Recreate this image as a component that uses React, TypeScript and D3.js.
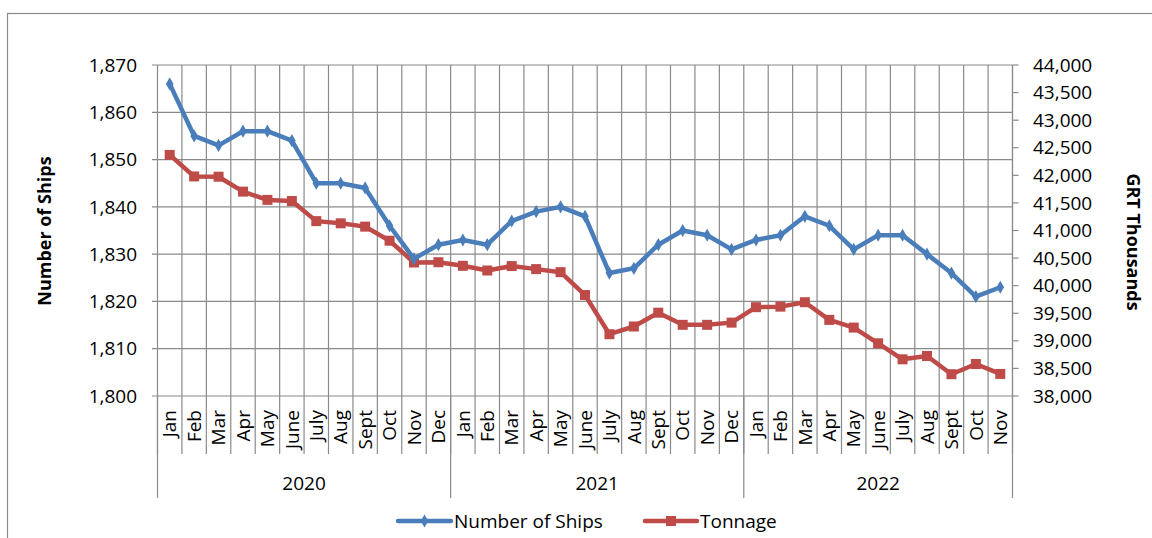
import React from 'react'
import * as d3 from 'd3'

const months: string[] = [
    'Jan', 'Feb', 'Mar', 'Apr', 'May', 'June', 'July', 'Aug', 'Sept', 'Oct', 'Nov', 'Dec',
    'Jan', 'Feb', 'Mar', 'Apr', 'May', 'June', 'July', 'Aug', 'Sept', 'Oct', 'Nov', 'Dec',
    'Jan', 'Feb', 'Mar', 'Apr', 'May', 'June', 'July', 'Aug', 'Sept', 'Oct', 'Nov',
]

const years = [
    { label: '2020', start: 0, count: 12 },
    { label: '2021', start: 12, count: 12 },
    { label: '2022', start: 24, count: 11 },
]

// Number of ships (left axis)
const ships: number[] = [
    1866, 1855, 1853, 1856, 1856, 1854, 1845, 1845, 1844, 1836, 1829, 1832,
    1833, 1832, 1837, 1839, 1840, 1838, 1826, 1827, 1832, 1835, 1834, 1831,
    1833, 1834, 1838, 1836, 1831, 1834, 1834, 1830, 1826, 1821, 1823,
]

// Tonnage, GRT thousands (right axis)
const tonnage: number[] = [
    42370, 41980, 41975, 41705, 41555, 41535, 41170, 41130, 41070, 40815, 40420, 40425,
    40360, 40275, 40355, 40300, 40245, 39830, 39120, 39260, 39510, 39290, 39290, 39330,
    39610, 39620, 39700, 39380, 39240, 38955, 38665, 38725, 38395, 38580, 38400,
]

const leftTicks: number[] = [1800, 1810, 1820, 1830, 1840, 1850, 1860, 1870]
const rightTicks: number[] = d3.range(38000, 44001, 500)

const BLUE = '#4A7EBB'
const RED = '#BE4B48'
const GRID = '#8A8A8A'
const FONT = "'Open Sans', 'Noto Sans', sans-serif"

export default function App() {
    const width = 1152
    const height = 538
    const left = 157.5
    const right = 1012.5
    const top = 65
    const bottom = 396

    const x = d3.scaleBand<number>()
        .domain(d3.range(months.length))
        .range([left, right])
        .padding(0)
    const yL = d3.scaleLinear().domain([1800, 1870]).range([bottom, top])
    const yR = d3.scaleLinear().domain([38000, 44000]).range([bottom, top])
    const cx = (i: number) => (x(i) as number) + x.bandwidth() / 2

    const shipLine = d3.line<number>().x((_, i) => cx(i)).y(d => yL(d))
    const tonLine = d3.line<number>().x((_, i) => cx(i)).y(d => yR(d))

    const diamond = d3.symbol().type(d3.symbolDiamond).size(50)()

    const catBounds = d3.range(months.length + 1).map(i =>
        i < months.length ? (x(i) as number) : right)

    return (
        <svg width={width} height={height} style={{ position: 'absolute', left: 0, top: 0 }}>
            <rect x={7.5} y={13.5} width={1160} height={540} fill="white" stroke={GRID} strokeWidth={1.2} />

            {/* horizontal gridlines */}
            {leftTicks.map(t => (
                <line key={`h-${t}`} x1={152} x2={right} y1={yL(t)} y2={yL(t)} stroke={GRID} strokeWidth={1.2} />
            ))}
            {/* vertical category lines, extending into the label area */}
            {catBounds.map((b, i) => (
                <line key={`v-${i}`} x1={b} x2={b} y1={top} y2={454} stroke={GRID} strokeWidth={1.2} />
            ))}
            {/* year separators */}
            {[0, 12, 24].map(i => (
                <line key={`ys-${i}`} x1={x(i) as number} x2={x(i) as number} y1={bottom} y2={498} stroke={GRID} strokeWidth={1.2} />
            ))}
            <line x1={right} x2={right} y1={top} y2={498} stroke={GRID} strokeWidth={1.2} />

            {/* right axis ticks */}
            {rightTicks.map(t => (
                <line key={`rt-${t}`} x1={right} x2={right + 6} y1={yR(t)} y2={yR(t)} stroke={GRID} strokeWidth={1.2} />
            ))}

            {/* left tick labels */}
            {leftTicks.map(t => (
                <text key={`lt-${t}`} x={137} y={yL(t)} dy="0.35em" textAnchor="end"
                      fontFamily={FONT} fontSize={19} fill="#000">{d3.format(',')(t)}</text>
            ))}
            {/* right tick labels */}
            {rightTicks.map(t => (
                <text key={`rl-${t}`} x={1033} y={yR(t)} dy="0.35em" textAnchor="start"
                      fontFamily={FONT} fontSize={19} fill="#000">{d3.format(',')(t)}</text>
            ))}

            {/* month labels */}
            {months.map((m, i) => (
                <text key={`m-${i}`} transform={`translate(${cx(i)}, 410) rotate(-90)`}
                      textAnchor="end" dy="0.35em" fontFamily={FONT} fontSize={19} fill="#000">{m}</text>
            ))}
            {/* year labels */}
            {years.map(yr => {
                const x0 = x(yr.start) as number
                const x1 = yr.start + yr.count < months.length ? (x(yr.start + yr.count) as number) : right
                return (
                    <text key={yr.label} x={(x0 + x1) / 2} y={483} dy="0.35em" textAnchor="middle"
                          fontFamily={FONT} fontSize={19} fill="#000">{yr.label}</text>
                )
            })}

            {/* axis titles */}
            <text transform={`translate(45, 231) rotate(-90)`} textAnchor="middle" dy="0.35em"
                  fontFamily={FONT} fontSize={18} fontWeight="bold" fill="#000">Number of Ships</text>
            <text transform={`translate(1133, 242) rotate(90)`} textAnchor="middle" dy="0.35em"
                  fontFamily={FONT} fontSize={18} fontWeight="bold" fill="#000">GRT Thousands</text>

            {/* series */}
            <path d={tonLine(tonnage) as string} fill="none" stroke={RED} strokeWidth={4.5} strokeLinejoin="round" />
            {tonnage.map((v, i) => (
                <rect key={`sq-${i}`} x={cx(i) - 5} y={yR(v) - 5} width={10} height={10} fill={RED} />
            ))}
            <path d={shipLine(ships) as string} fill="none" stroke={BLUE} strokeWidth={4.5} strokeLinejoin="round" />
            {ships.map((v, i) => (
                <path key={`dm-${i}`} d={diamond as string} transform={`translate(${cx(i)}, ${yL(v)})`} fill={BLUE} />
            ))}

            {/* legend */}
            <line x1={398} x2={451} y1={521} y2={521} stroke={BLUE} strokeWidth={4.5} strokeLinecap="round" />
            <path d={diamond as string} transform="translate(424.5, 521)" fill={BLUE} />
            <text x={454} y={521} dy="0.35em" fontFamily={FONT} fontSize={19} fill="#000">Number of Ships</text>
            <line x1={645} x2={697} y1={521} y2={521} stroke={RED} strokeWidth={4.5} strokeLinecap="round" />
            <rect x={666} y={516} width={10} height={10} fill={RED} />
            <text x={700} y={521} dy="0.35em" fontFamily={FONT} fontSize={19} fill="#000">Tonnage</text>
        </svg>
    )
}
